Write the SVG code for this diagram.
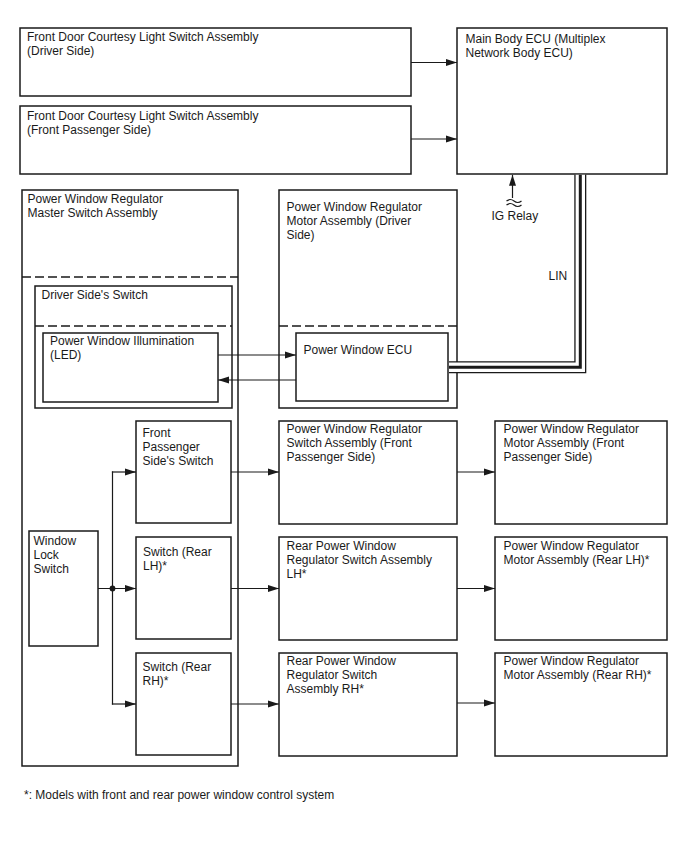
<svg xmlns="http://www.w3.org/2000/svg" width="688" height="852" viewBox="0 0 688 852">
<style>
.box{fill:#fff;stroke:#1a1a1a;stroke-width:1.5}
.dash{fill:none;stroke:#1a1a1a;stroke-width:1.5;stroke-dasharray:9,4}
.ln{fill:none;stroke:#1a1a1a;stroke-width:1.2}
text{font-family:"Liberation Sans",Arial,sans-serif;font-size:12px;fill:#1a1a1a}
</style>
<defs>
<marker id="ah" markerUnits="userSpaceOnUse" markerWidth="11" markerHeight="8" refX="11" refY="4" orient="auto">
<path d="M0,0.5 L11,4 L0,7.5 z" fill="#1a1a1a"/>
</marker>
</defs>
<rect width="688" height="852" fill="#fff"/>

<g id="front-door-driver">
<rect class="box" x="20" y="28" width="391" height="68"/>
<text x="27" y="41">Front Door Courtesy Light Switch Assembly</text>
<text x="27" y="55">(Driver Side)</text>
</g>
<g id="front-door-passenger">
<rect class="box" x="20" y="106" width="391" height="68"/>
<text x="27" y="120">Front Door Courtesy Light Switch Assembly</text>
<text x="27" y="134">(Front Passenger Side)</text>
</g>
<g id="main-body-ecu">
<rect class="box" x="457" y="28" width="210" height="146"/>
<text x="465.5" y="43">Main Body ECU (Multiplex</text>
<text x="465.5" y="57">Network Body ECU)</text>
</g>

<g id="master-switch">
<rect class="box" x="22" y="190" width="216" height="576"/>
<text x="27.5" y="203">Power Window Regulator</text>
<text x="27.5" y="217">Master Switch Assembly</text>
<line class="dash" x1="22" y1="277" x2="238" y2="277"/>
</g>
<g id="driver-side-switch">
<rect class="box" x="35" y="286" width="197" height="122"/>
<text x="41.5" y="298.5">Driver Side's Switch</text>
<line class="dash" x1="35" y1="326" x2="232" y2="326"/>
</g>
<g id="illumination">
<rect class="box" x="43" y="333" width="175" height="69"/>
<text x="50" y="345">Power Window Illumination</text>
<text x="50" y="359">(LED)</text>
</g>
<g id="motor-driver">
<rect class="box" x="279" y="190" width="178" height="218"/>
<text x="286.5" y="211">Power Window Regulator</text>
<text x="286.5" y="225">Motor Assembly (Driver</text>
<text x="286.5" y="239">Side)</text>
<line class="dash" x1="279" y1="326" x2="457" y2="326"/>
</g>
<g id="power-window-ecu">
<rect class="box" x="296" y="333" width="152" height="68"/>
<text x="303.5" y="353.5">Power Window ECU</text>
</g>

<g id="fp-switch">
<rect class="box" x="136" y="421" width="95" height="102"/>
<text x="142.5" y="437">Front</text>
<text x="142.5" y="451">Passenger</text>
<text x="142.5" y="465">Side's Switch</text>
</g>
<g id="window-lock">
<rect class="box" x="29" y="531" width="69" height="115"/>
<text x="33.5" y="545">Window</text>
<text x="33.5" y="559">Lock</text>
<text x="33.5" y="573">Switch</text>
</g>
<g id="switch-rear-lh">
<rect class="box" x="136" y="537" width="95" height="102"/>
<text x="143" y="556">Switch (Rear</text>
<text x="143" y="570">LH)*</text>
</g>
<g id="switch-rear-rh">
<rect class="box" x="136" y="653" width="95" height="102"/>
<text x="142.5" y="671">Switch (Rear</text>
<text x="142.5" y="685">RH)*</text>
</g>

<g id="fp-switch-assy">
<rect class="box" x="279" y="421" width="178" height="103"/>
<text x="286.5" y="433">Power Window Regulator</text>
<text x="286.5" y="447">Switch Assembly (Front</text>
<text x="286.5" y="461">Passenger Side)</text>
</g>
<g id="rl-switch-assy">
<rect class="box" x="279" y="537" width="178" height="103"/>
<text x="286.5" y="550">Rear Power Window</text>
<text x="286.5" y="564">Regulator Switch Assembly</text>
<text x="286.5" y="578">LH*</text>
</g>
<g id="rr-switch-assy">
<rect class="box" x="279" y="653" width="178" height="103"/>
<text x="286.5" y="665">Rear Power Window</text>
<text x="286.5" y="679">Regulator Switch</text>
<text x="286.5" y="693">Assembly RH*</text>
</g>

<g id="fp-motor">
<rect class="box" x="495" y="421" width="172" height="103"/>
<text x="503.5" y="433">Power Window Regulator</text>
<text x="503.5" y="447">Motor Assembly (Front</text>
<text x="503.5" y="461">Passenger Side)</text>
</g>
<g id="rl-motor">
<rect class="box" x="495" y="537" width="172" height="103"/>
<text x="503.5" y="550">Power Window Regulator</text>
<text x="503.5" y="564">Motor Assembly (Rear LH)*</text>
</g>
<g id="rr-motor">
<rect class="box" x="495" y="653" width="172" height="103"/>
<text x="503.5" y="665">Power Window Regulator</text>
<text x="503.5" y="679">Motor Assembly (Rear RH)*</text>
</g>

<g id="connectors">
<line class="ln" x1="411" y1="62.5" x2="457" y2="62.5" marker-end="url(#ah)"/>
<line class="ln" x1="411" y1="139" x2="457" y2="139" marker-end="url(#ah)"/>
<line class="ln" x1="218" y1="355" x2="296" y2="355" marker-end="url(#ah)"/>
<line class="ln" x1="296" y1="380" x2="218" y2="380" marker-end="url(#ah)"/>
<line class="ln" x1="98" y1="588.5" x2="136" y2="588.5" marker-end="url(#ah)"/>
<line class="ln" x1="112.5" y1="471.4" x2="112.5" y2="704.6"/>
<line class="ln" x1="111.9" y1="472" x2="136" y2="472" marker-end="url(#ah)"/>
<line class="ln" x1="111.9" y1="704" x2="136" y2="704" marker-end="url(#ah)"/>
<circle cx="112.5" cy="588.5" r="2.9" fill="#1a1a1a"/>
<line class="ln" x1="231" y1="472" x2="279" y2="472" marker-end="url(#ah)"/>
<line class="ln" x1="231" y1="588.5" x2="279" y2="588.5" marker-end="url(#ah)"/>
<line class="ln" x1="231" y1="704" x2="279" y2="704" marker-end="url(#ah)"/>
<line class="ln" x1="457" y1="472" x2="495" y2="472" marker-end="url(#ah)"/>
<line class="ln" x1="457" y1="588.5" x2="495" y2="588.5" marker-end="url(#ah)"/>
<line class="ln" x1="457" y1="703" x2="495" y2="703" marker-end="url(#ah)"/>
<g id="ig-relay">
<line class="ln" x1="512.5" y1="198" x2="512.5" y2="174.8" marker-end="url(#ah)"/>
<path class="ln" d="M506.5,201 q3.75,-3 7.5,0 t7.5,0 M506.5,205 q3.75,-3 7.5,0 t7.5,0"/>
<text x="491.5" y="220">IG Relay</text>
</g>
<g id="lin-bus">
<polyline points="580.3,174.8 580.3,367.3 449,367.3" fill="none" stroke="#1a1a1a" stroke-width="12" stroke-linejoin="miter"/>
<polyline points="580.3,174.8 580.3,367.3 449,367.3" fill="none" stroke="#fff" stroke-width="9.4" stroke-linejoin="miter"/>
<polyline points="580.3,174.8 580.3,367.3 449,367.3" fill="none" stroke="#1a1a1a" stroke-width="3" stroke-linejoin="miter"/>
<text x="548.5" y="280">LIN</text>
</g>
</g>

<text x="24" y="799">*: Models with front and rear power window control system</text>
</svg>
